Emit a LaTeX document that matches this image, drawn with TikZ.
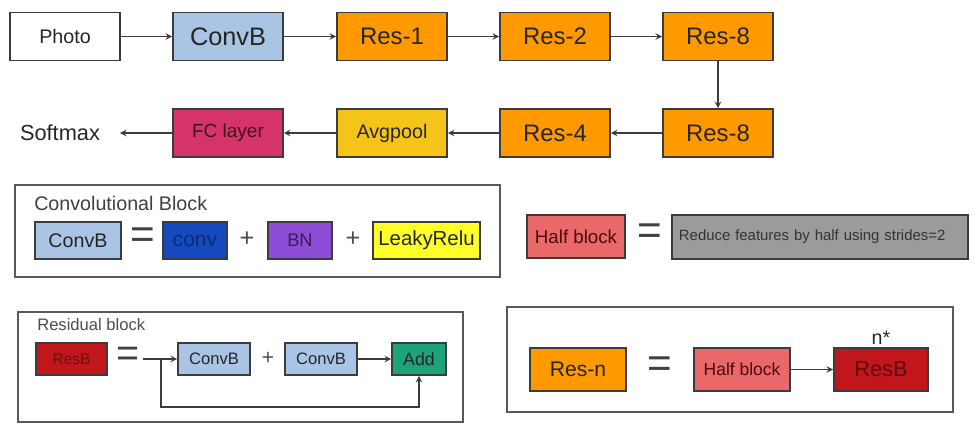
\documentclass[tikz,border=0pt]{standalone}
\usepackage{fontspec}
\setmainfont{Liberation Sans}
\definecolor{ConvBlue}{RGB}{169,196,228}
\definecolor{ResOrange}{RGB}{255,153,0}
\definecolor{FCRed}{RGB}{214,52,104}
\definecolor{PoolGold}{RGB}{244,196,24}
\definecolor{ConvDark}{RGB}{22,72,190}
\definecolor{BNPurple}{RGB}{140,76,214}
\definecolor{ReluYellow}{RGB}{255,255,40}
\definecolor{HalfSalmon}{RGB}{233,104,106}
\definecolor{StrideGray}{RGB}{155,155,155}
\definecolor{ResBRed}{RGB}{192,22,28}
\definecolor{AddGreen}{RGB}{28,163,122}
\definecolor{LineGray}{RGB}{60,60,60}
\newcommand{\pts}[1]{\fontsize{#1}{#1}\selectfont}

\begin{document}
\begin{tikzpicture}[x=0.025cm, y=-0.025cm, >=stealth,
    blk/.style={draw=LineGray, line width=1.1pt, inner sep=0pt, text=black!85},
    big/.style={blk, minimum width=2.75cm, minimum height=1.2cm},
    lnk/.style={draw=LineGray, line width=1.1pt, ->},
    frm/.style={draw=gray!70!black, line width=0.9pt}]
  \useasboundingbox (0,0) rectangle (975,432);

  % main network
  \node[big, fill=white, font=\pts{14}] (photo) at (65,36.5) {Photo};
  \node[big, fill=ConvBlue, font=\pts{18}] (convb) at (228,36.5) {ConvB};
  \node[big, fill=ResOrange, font=\pts{17}] (res1) at (392,36.5) {Res-1};
  \node[big, fill=ResOrange, font=\pts{17}] (res2) at (555,36.5) {Res-2};
  \node[big, fill=ResOrange, font=\pts{17}] (res8a) at (718,36.5) {Res-8};
  \node[big, fill=ResOrange, font=\pts{17}] (res8b) at (718,133) {Res-8};
  \node[big, fill=ResOrange, font=\pts{17}] (res4) at (555,133) {Res-4};
  \node[big, fill=PoolGold, font=\pts{14}] (pool) at (392,133) {Avgpool};
  \node[big, fill=FCRed, text=black!70!FCRed, font=\pts{13.5}] (fc) at (228,133) {FC layer};
  \node[font=\pts{15.5}, text=black!85, inner xsep=14pt] (soft) at (60,133) {Softmax};
  \draw[lnk] (photo) -- (convb);
  \draw[lnk] (convb) -- (res1);
  \draw[lnk] (res1) -- (res2);
  \draw[lnk] (res2) -- (res8a);
  \draw[lnk] (res8a) -- (res8b);
  \draw[lnk] (res8b) -- (res4);
  \draw[lnk] (res4) -- (pool);
  \draw[lnk] (pool) -- (fc);
  \draw[lnk] (fc) -- (soft);

  % convolutional block
  \draw[frm] (15,185) rectangle (500,277);
  \node[anchor=west, inner sep=0pt, font=\pts{14}, text=black!75] (convtitle) at (34,203) {Convolutional Block};
  \node[blk, fill=ConvBlue, minimum width=2.15cm, minimum height=0.93cm, font=\pts{14}] (cbdef) at (78,240.5) {ConvB};
  \node[font=\pts{30}, text=black!75] (cbeq) at (143,238) {=};
  \node[blk, fill=ConvDark, text=ConvDark!60!black, minimum width=1.6cm, minimum height=0.93cm, font=\pts{15}] (conv) at (195,240.5) {conv};
  \node[font=\pts{18}, text=black!70] (cbplus1) at (247,239) {+};
  \node[blk, fill=BNPurple, text=BNPurple!40!black, minimum width=1.6cm, minimum height=0.93cm, font=\pts{13}] (bn) at (300,240.5) {BN};
  \node[font=\pts{18}, text=black!70] (cbplus2) at (353,239) {+};
  \node[blk, fill=ReluYellow, minimum width=2.675cm, minimum height=0.93cm, font=\pts{14.5}] (relu) at (426.5,240.5) {LeakyRelu};

  % half block
  \node[blk, fill=HalfSalmon, text=black!60!ResBRed, minimum width=2.45cm, minimum height=1.08cm, font=\pts{13.3}] (halfdef) at (576,236.5) {Half block};
  \node[font=\pts{30}, text=black!75] (halfeq) at (650,234) {=};
  \node[blk, fill=StrideGray, text=black!80, minimum width=7.4cm, minimum height=1.1cm, text width=7.05cm, align=left, font=\pts{10.6}] (stride) at (820,237) {Reduce features by half using strides=2};

  % residual block
  \draw[frm] (18,312) rectangle (463,422);
  \node[anchor=west, inner sep=0pt, font=\pts{11.8}, text=black!70] (restitle) at (37,325) {Residual block};
  \node[blk, fill=ResBRed, text=ResBRed!60!black, minimum width=1.78cm, minimum height=0.8cm, font=\pts{11}] (resbdef) at (71.5,359) {ResB};
  \node[font=\pts{28}, text=black!75] (reseq) at (128,357) {=};
  \node[blk, fill=ConvBlue, minimum width=1.8cm, minimum height=0.8cm, font=\pts{11.8}] (cb1) at (214,359) {ConvB};
  \node[font=\pts{15}, text=black!70] (resplus) at (268,358) {+};
  \node[blk, fill=ConvBlue, minimum width=1.8cm, minimum height=0.8cm, font=\pts{11.8}] (cb2) at (321,359) {ConvB};
  \node[blk, fill=AddGreen, minimum width=1.35cm, minimum height=0.8cm, font=\pts{12.6}] (add) at (419,359) {Add};
  \coordinate (rin) at (143,359);
  \coordinate (rsplit) at (161,359);
  \coordinate (rloop) at (161,407);
  \draw[lnk] (rin) -- (cb1);
  \draw[lnk] (cb2) -- (add);
  \draw[lnk] (rsplit) -- (rloop) -| (add.south);

  % res-n
  \draw[frm] (507,307) rectangle (953,412);
  \node[blk, fill=ResOrange, minimum width=2.4cm, minimum height=1.08cm, font=\pts{15}] (resn) at (578,369.5) {Res-n};
  \node[font=\pts{30}, text=black!75] (resneq) at (660,367) {=};
  \node[blk, fill=HalfSalmon, text=black!60!ResBRed, minimum width=2.4cm, minimum height=1.08cm, font=\pts{12.4}] (half) at (742,369.5) {Half block};
  \node[blk, fill=ResBRed, text=ResBRed!50!black, minimum width=2.35cm, minimum height=1.08cm, font=\pts{15.5},
        label={[font=\pts{14}, text=black!85, inner sep=2pt]above:n*}] (resb) at (881,369.5) {ResB};
  \draw[lnk] (half) -- (resb);
\end{tikzpicture}
\end{document}
